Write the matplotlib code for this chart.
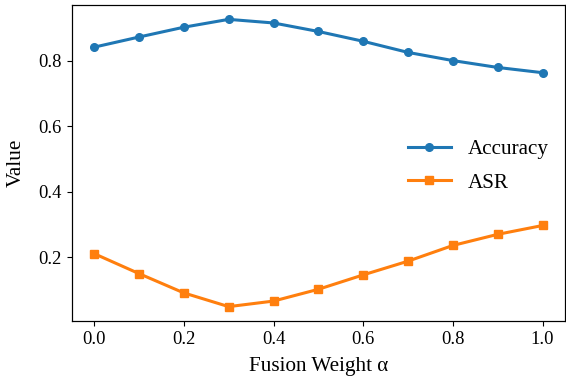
import matplotlib
matplotlib.use('Agg')
import matplotlib.pyplot as plt

# Dados
alpha = [0.0, 0.1, 0.2, 0.3, 0.4, 0.5, 0.6, 0.7, 0.8, 0.9, 1.0]
accuracy = [0.842, 0.873, 0.903, 0.927, 0.916, 0.890, 0.860, 0.826, 0.801, 0.780, 0.764]
asr = [0.211, 0.150, 0.091, 0.049, 0.066, 0.102, 0.146, 0.188, 0.236, 0.270, 0.297]

plt.rcParams['font.family'] = ['Liberation Serif', 'DejaVu Serif']
s = 1.1  # escala geral
plt.rcParams['xtick.major.size'] = 3.5 * s
plt.rcParams['ytick.major.size'] = 3.5 * s
plt.rcParams['axes.linewidth'] = 0.8 * s

fig = plt.figure(figsize=(5.66, 3.8), dpi=100)
ax = fig.add_axes([71.7 / 566, (380 - 321) / 380, (565 - 71.7) / 566, (321 - 5) / 380])

ax.plot(alpha, accuracy, marker='o', markersize=5.5, linewidth=2.2, color='#1f77b4', label='Accuracy')
ax.plot(alpha, asr, marker='s', markersize=5.5, linewidth=2.2, color='#ff7f0e', label='ASR')

ax.set_xlabel('Fusion Weight α', fontsize=15.2, labelpad=6.5)
ax.set_ylabel('Value', fontsize=15.2, labelpad=9)
ax.set_xticks([0.0, 0.2, 0.4, 0.6, 0.8, 1.0])
ax.set_yticks([0.2, 0.4, 0.6, 0.8])
ax.tick_params(labelsize=13.3)
ax.legend(loc='center right', frameon=False, fontsize=15.2, labelspacing=0.65,
          bbox_to_anchor=(1.005, 0.49))

fig.savefig('out.png', dpi=100)
